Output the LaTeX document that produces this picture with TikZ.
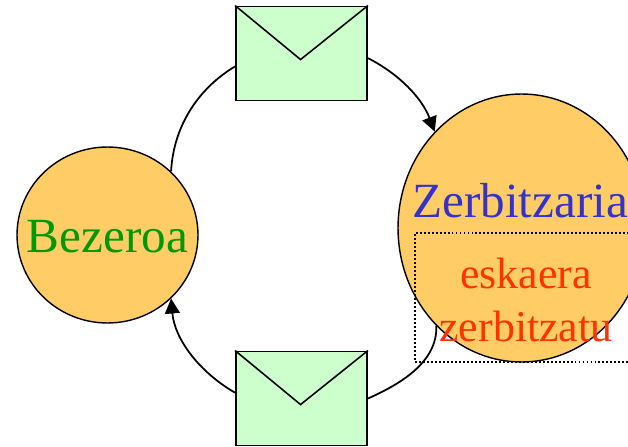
\documentclass[tikz,border=0pt]{standalone}
\usepackage{fontspec}
\setmainfont{Liberation Serif}
\usetikzlibrary{arrows.meta}
\usetikzlibrary{shapes.geometric}

\definecolor{circleorange}{HTML}{FFCC66}
\definecolor{mailgreen}{HTML}{CCFFCC}
\definecolor{clientgreen}{HTML}{009900}
\definecolor{serverblue}{HTML}{3333CC}
\definecolor{taskred}{HTML}{FF3300}

\tikzset{
    party/.style = {ellipse, draw = black, fill = circleorange, line width = 0.8pt, inner sep = 0pt},
    mail/.style = {rectangle, draw = black, fill = mailgreen, line width = 1.1pt, inner sep = 0pt, minimum width = 2.62cm, minimum height = 1.88cm},
    plainflow/.style = {line width = 1pt, looseness = 0.92},
    flow/.style = {plainflow, -{Triangle[length = 8.5pt, width = 8.5pt]}},
    bigtext/.style = {font = \fontsize{28}{30}\selectfont, inner sep = 0pt}
}

\begin{document}
\begin{tikzpicture}[x = 0.02cm, y = -0.02cm]
    \clip (0, 0) rectangle (628, 446);

    % draw client and server
    \node[party, minimum width = 3.62cm, minimum height = 3.52cm] (client) at (107.5, 235) {};
    \node[bigtext, text = clientgreen] (clientname) at (107.5, 237) {Bezeroa};
    \node[party, minimum width = 4.94cm, minimum height = 5.36cm] (server) at (521.5, 228) {};
    \node[bigtext, text = serverblue] (servername) at (520, 201) {Zerbitzaria};

    % draw dotted task box
    \node[draw = black, dash pattern = on 1.1pt off 1.17pt, line width = 1pt, inner sep = 0pt, minimum width = 4.44cm, minimum height = 2.58cm] (task) at (526, 297.5) {};
    \node[text = taskred, align = center, inner sep = 0pt, font = \fontsize{25}{30.6}\selectfont] (tasklabel) at (526, 300) {eskaera\\zerbitzatu};

    % draw envelopes
    \node[mail] (mailtop) at (301.5, 53.5) {};
    \draw[line width = 0.9pt] (mailtop.north west) -- +(65.5, 54) -- (mailtop.north east);
    \node[mail] (mailbottom) at (301.5, 398.5) {};
    \draw[line width = 0.9pt] (mailbottom.north west) -- +(65.5, 54) -- (mailbottom.north east);

    % draw connectors
    \draw[plainflow] (mailtop.191) to[out = 211, in = 87] (client.45);
    \draw[flow] (mailtop.-4) to[out = -27, in = 111] (server.132);
    \draw[plainflow] (mailbottom.east) to[out = 24, in = -88] (server.229);
    \draw[flow] (mailbottom.175) to[out = 150, in = -85] (client.-45);
\end{tikzpicture}
\end{document}
